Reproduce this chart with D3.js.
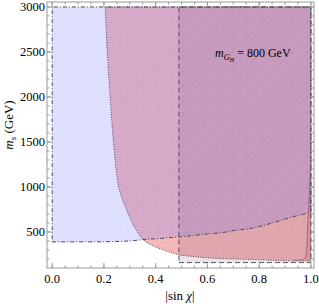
<!DOCTYPE html>
<html>
<head>
<meta charset="utf-8">
<script src="https://cdn.jsdelivr.net/npm/d3@7"></script>
<style>
  body { margin: 0; background: #fff; }
  svg text { font-family: "Liberation Serif", "DejaVu Serif", serif; fill: #000; }
</style>
</head>
<body>
<div id="chart"></div>
<script>
// lower edge of the blue region (|sin chi|, m_s)
const blueEdge = [[0, 390], [0.1, 390], [0.2, 392], [0.3, 400], [0.35, 415], [0.4, 425], [0.5, 448],
  [0.6, 478], [0.65, 490], [0.7, 515], [0.77, 540], [0.85, 600], [0.92, 660], [1.0, 718]];
// left / lower edge of the red region
const redEdge = [[0.205, 3000], [0.213, 2500], [0.224, 2000], [0.237, 1500], [0.257, 1000], [0.28, 800],
  [0.31, 600], [0.33, 500], [0.35, 420], [0.38, 360], [0.42, 310], [0.49, 248], [0.55, 226],
  [0.65, 205], [0.77, 195], [0.89, 182], [0.95, 178], [1.0, 178]];
// thin sliver near |sin chi| = 1
const sliverEdge = [[0.93, 186], [0.962, 192], [0.977, 212], [0.983, 300], [0.986, 480], [0.99, 700],
  [0.995, 1000], [1.0, 1300]];
// grey box
const greyX = [0.49, 1.0];
const greyY = [160, 3000];

const xTicks = [0, 0.2, 0.4, 0.6, 0.8, 1.0];
const yTicks = [500, 1000, 1500, 2000, 2500, 3000];
const xMinor = d3.range(0, 1.0001, 0.05);
const yMinor = d3.range(200, 3001, 100);

const width = 319, height = 304;
const frame = { left: 47, right: 314, top: 2, bottom: 268 };

const x = d3.scaleLinear().domain([-0.02, 1.012]).range([frame.left, frame.right]);
const y = d3.scaleLinear().domain([100, 3055]).range([frame.bottom, frame.top]);

const svg = d3.select("#chart").append("svg")
  .attr("width", width).attr("height", height);

const defs = svg.append("defs");
defs.append("clipPath").attr("id", "clip")
  .append("rect")
  .attr("x", frame.left).attr("y", frame.top)
  .attr("width", frame.right - frame.left).attr("height", frame.bottom - frame.top);

function mesh(id, color) {
  const p = defs.append("pattern").attr("id", id)
    .attr("patternUnits", "userSpaceOnUse")
    .attr("width", 15).attr("height", 15)
    .attr("x", 52).attr("y", 7);
  p.append("path")
    .attr("d", "M0,15L15,0M0,0L15,0M0,0L0,15")
    .attr("stroke", color).attr("stroke-width", 0.5).attr("fill", "none");
}
mesh("meshRed", "rgba(190,60,90,0.1)");
mesh("meshBlue", "rgba(90,90,200,0.07)");
mesh("meshGrey", "rgba(80,80,80,0.05)");

const pt = d => `${x(d[0])},${y(d[1])}`;
const line = d3.line().x(d => x(d[0])).y(d => y(d[1]));
const smooth = d3.line().x(d => x(d[0])).y(d => y(d[1])).curve(d3.curveMonotoneX);
const smoothY = d3.line().x(d => x(d[0])).y(d => y(d[1])).curve(d3.curveCatmullRom.alpha(0.5));

const dBlue = smooth(blueEdge) + `L${pt([1, 3000])}L${pt([0, 3000])}Z`;
const dRed = smoothY(redEdge) + `L${pt([1, 3000])}Z`;
const dGrey = line([[greyX[0], greyY[0]], [greyX[1], greyY[0]], [greyX[1], greyY[1]], [greyX[0], greyY[1]]]) + "Z";
const dSliver = smoothY(sliverEdge) + `L${pt([1, 186])}Z`;

const g = svg.append("g").attr("clip-path", "url(#clip)");

function region(d, fill, meshId) {
  g.append("path").attr("d", d).attr("fill", fill);
  g.append("path").attr("d", d).attr("fill", `url(#${meshId})`);
}

region(dRed, "rgba(230,80,80,0.4)", "meshRed");
region(dBlue, "rgba(128,128,255,0.25)", "meshBlue");
region(dGrey, "rgba(105,75,115,0.15)", "meshGrey");
region(dSliver, "rgba(200,60,90,0.2)", "meshRed");

g.append("path").attr("d", dRed).attr("fill", "none")
  .attr("stroke", "#5a4450").attr("stroke-width", 1).attr("stroke-dasharray", "1,1.5");
g.append("path").attr("d", dBlue).attr("fill", "none")
  .attr("stroke", "#4a4a5a").attr("stroke-width", 1).attr("stroke-dasharray", "4,2,1,2");
g.append("path").attr("d", dGrey).attr("fill", "none")
  .attr("stroke", "#555").attr("stroke-width", 1).attr("stroke-dasharray", "5,3");
g.append("path").attr("d", smoothY(sliverEdge)).attr("fill", "none")
  .attr("stroke", "#a05070").attr("stroke-width", 0.7);

// frame
svg.append("rect")
  .attr("x", frame.left).attr("y", frame.top)
  .attr("width", frame.right - frame.left).attr("height", frame.bottom - frame.top)
  .attr("fill", "none").attr("stroke", "#999").attr("stroke-width", 1);

const ticks = svg.append("g").attr("stroke", "#999").attr("stroke-width", 1);
function xTick(v, len) {
  ticks.append("line").attr("x1", x(v)).attr("x2", x(v)).attr("y1", frame.bottom).attr("y2", frame.bottom - len);
  ticks.append("line").attr("x1", x(v)).attr("x2", x(v)).attr("y1", frame.top).attr("y2", frame.top + len);
}
function yTick(v, len) {
  ticks.append("line").attr("y1", y(v)).attr("y2", y(v)).attr("x1", frame.left).attr("x2", frame.left + len);
  ticks.append("line").attr("y1", y(v)).attr("y2", y(v)).attr("x1", frame.right).attr("x2", frame.right - len);
}
xMinor.forEach(v => xTick(v, 2.5));
xTicks.forEach(v => xTick(v, 5));
yMinor.forEach(v => yTick(v, 2.5));
yTicks.forEach(v => yTick(v, 5));

svg.append("g").selectAll("text").data(xTicks).join("text")
  .attr("x", d => x(d)).attr("y", 283)
  .attr("text-anchor", "middle").attr("font-size", 12.5)
  .text(d => d.toFixed(1));

svg.append("g").selectAll("text").data(yTicks).join("text")
  .attr("x", frame.left - 2).attr("y", d => y(d) + 4)
  .attr("text-anchor", "end").attr("font-size", 12.5)
  .text(d => d);

// axis labels
const xl = svg.append("text").attr("x", 180).attr("y", 300)
  .attr("text-anchor", "middle").attr("font-size", 13);
xl.append("tspan").text("|sin ");
xl.append("tspan").attr("font-style", "italic").text("χ");
xl.append("tspan").text("|");

const yl = svg.append("text").attr("transform", "translate(13,125) rotate(-90)")
  .attr("text-anchor", "middle").attr("font-size", 13);
yl.append("tspan").attr("font-style", "italic").text("m");
yl.append("tspan").attr("font-style", "italic").attr("font-size", 9).attr("dy", 3).text("s");
yl.append("tspan").attr("dy", -3).text(" (GeV)");

// annotation
const ann = svg.append("text").attr("x", 215).attr("y", 57).attr("font-size", 12);
ann.append("tspan").attr("font-style", "italic").text("m");
ann.append("tspan").attr("font-style", "italic").attr("font-size", 8.5).attr("dy", 3).text("G");
ann.append("tspan").attr("font-style", "italic").attr("font-size", 6).attr("dy", 2).text("H");
ann.append("tspan").attr("dy", -5).text(" = 800 GeV");
</script>
</body>
</html>
